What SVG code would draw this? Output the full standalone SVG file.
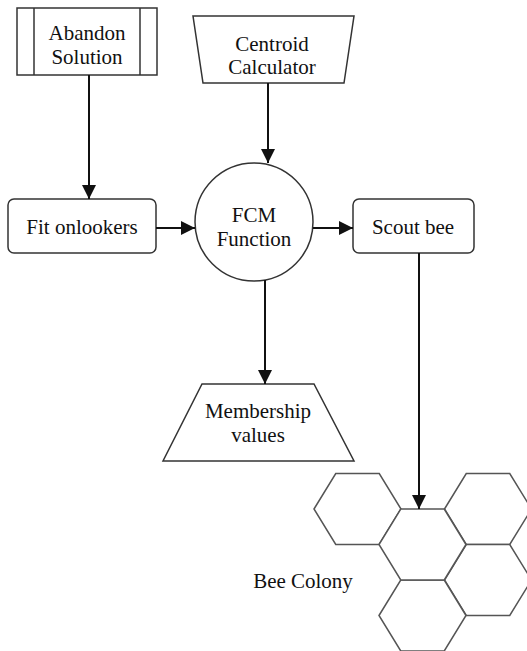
<svg xmlns="http://www.w3.org/2000/svg" width="527" height="651" viewBox="0 0 527 651">
<defs>
<style>
.n{fill:#fff;stroke:#333;stroke-width:1.5}
.t{font-family:"Liberation Serif","Times New Roman",serif;font-size:21px;fill:#111;text-anchor:middle}
.c{fill:none;stroke:#111;stroke-width:2}
.h{fill:#fff;stroke:#555;stroke-width:1.5}
</style>
<marker id="ah" markerUnits="userSpaceOnUse" markerWidth="14" markerHeight="14" refX="14" refY="7" orient="auto">
<path d="M0,0 L14,7 L0,14 Z" fill="#111"/>
</marker>
<path id="hex" d="M-43.5,0 L-21.75,-35.5 L21.75,-35.5 L43.5,0 L21.75,35.5 L-21.75,35.5 Z"/>
</defs>
<rect width="527" height="651" fill="#fff"/>
<g id="bee-colony">
<use href="#hex" class="h" x="357.5" y="509"/>
<use href="#hex" class="h" x="488" y="509"/>
<use href="#hex" class="h" x="488" y="580"/>
<use href="#hex" class="h" x="422.5" y="615.5"/>
<use href="#hex" class="h" x="422.5" y="544.5"/>
<text class="t" x="303" y="588">Bee Colony</text>
</g>
<g id="abandon">
<rect class="n" x="17" y="8" width="140" height="67"/>
<line class="n" x1="34" y1="8" x2="34" y2="75"/>
<line class="n" x1="140" y1="8" x2="140" y2="75"/>
<text class="t" x="87" y="40">Abandon</text>
<text class="t" x="87" y="64">Solution</text>
</g>
<g id="centroid">
<path class="n" d="M193,16 L354,16 L344,83 L203,83 Z"/>
<text class="t" x="272" y="51">Centroid</text>
<text class="t" x="272" y="74">Calculator</text>
</g>
<g id="fit">
<rect class="n" x="8" y="199" width="148" height="54" rx="6"/>
<text class="t" x="82" y="234">Fit onlookers</text>
</g>
<g id="fcm">
<circle class="n" cx="254" cy="222" r="59"/>
<text class="t" x="254" y="222">FCM</text>
<text class="t" x="254" y="246">Function</text>
</g>
<g id="scout">
<rect class="n" x="353" y="199" width="121" height="54" rx="6"/>
<text class="t" x="413" y="234">Scout bee</text>
</g>
<g id="membership">
<path class="n" d="M202,384 L314,384 L354,461 L163,461 Z"/>
<text class="t" x="258" y="418">Membership</text>
<text class="t" x="258" y="442">values</text>
</g>
<g id="connectors">
<path class="c" d="M89,75 V199" marker-end="url(#ah)"/>
<path class="c" d="M268,83 V163" marker-end="url(#ah)"/>
<path class="c" d="M156,228 H195" marker-end="url(#ah)"/>
<path class="c" d="M313,228 H353" marker-end="url(#ah)"/>
<path class="c" d="M265,280 V384" marker-end="url(#ah)"/>
<path class="c" d="M419,253 V509" marker-end="url(#ah)"/>
</g>
</svg>
